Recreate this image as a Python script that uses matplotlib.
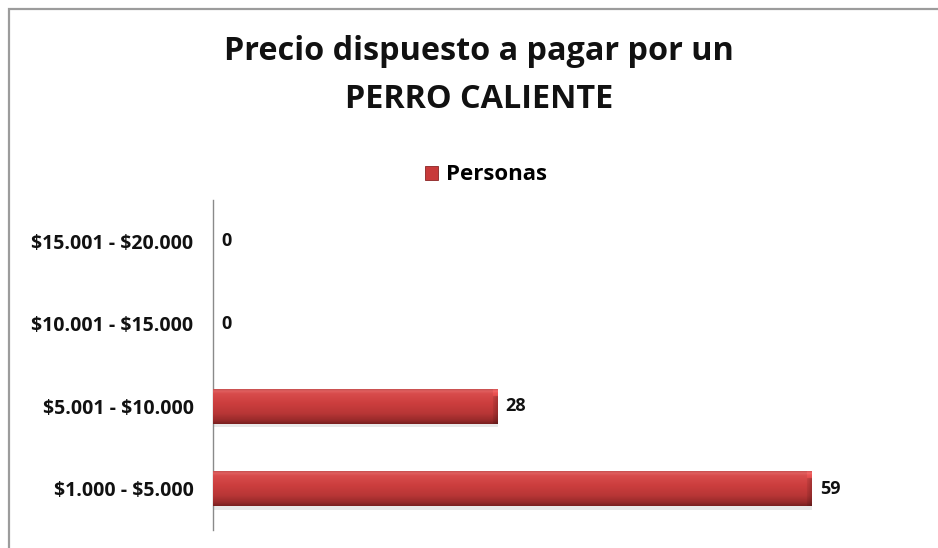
import numpy as np
import matplotlib
matplotlib.use("Agg")
import matplotlib.pyplot as plt
from matplotlib.patches import Rectangle, Patch
from matplotlib.colors import LinearSegmentedColormap

plt.rcParams["text.parse_math"] = False

categories = ["$1.000 - $5.000", "$5.001 - $10.000", "$10.001 - $15.000", "$15.001 - $20.000"]
personas = [59, 28, 0, 0]
series_name = "Personas"
title_lines = ["Precio dispuesto a pagar por un", "PERRO CALIENTE"]

FONT = "Open Sans"
W, H = 938, 548
fig = plt.figure(figsize=(W / 100, H / 100), dpi=100)
fig.patch.set_facecolor("white")

# chart frame (only left and top edges fall inside the canvas)
fig.patches.append(Rectangle((9 / W, -0.05), 1.2, 1 - 9 / H + 0.05,
                             transform=fig.transFigure, fill=False,
                             edgecolor="#9c9c9c", linewidth=1.6))

ax = fig.add_axes([213 / W, 18 / H, 710 / W, 330 / H])
ypos = np.arange(len(categories))
bar_h = 0.42

# soft shadow under the bars
ax.barh(ypos - 0.045, personas, height=bar_h, left=0.1, color="#7a7a7a",
        alpha=0.16, linewidth=0, zorder=1)

bars = ax.barh(ypos, personas, height=bar_h, color="none", linewidth=0, zorder=2)

# glossy vertical gradient for each bar
vcols = [(0.0, "#7a2020"), (0.1, "#982a2a"), (0.3, "#b83636"),
         (0.6, "#cc3e3e"), (0.88, "#d84c4c"), (0.95, "#e06060"), (1.0, "#c85050")]
cmap = LinearSegmentedColormap.from_list("bar_gloss", vcols)
for rect in bars:
    w = rect.get_width()
    if w <= 0:
        continue
    x0, y0, h = rect.get_x(), rect.get_y(), rect.get_height()
    ncols = max(int(w * 10), 10)
    rows = 60
    grad = np.tile(np.linspace(0, 1, rows)[:, None], (1, ncols))
    rgba = cmap(grad)
    # bevelled right end: darker edge, lighter upper corner
    end = 5
    for k in range(end):
        rgba[:int(rows * 0.8), ncols - end + k, :3] *= 0.92 - 0.03 * k
        rgba[int(rows * 0.8):, ncols - end + k, :3] = np.clip(
            rgba[int(rows * 0.8):, ncols - end + k, :3] * 1.08, 0, 1)
    ax.imshow(rgba, extent=[x0, x0 + w, y0, y0 + h], origin="lower",
              aspect="auto", interpolation="bilinear", zorder=3)

for y, v in zip(ypos, personas):
    ax.annotate(str(v), xy=(v, y), xytext=(6, 0), textcoords="offset points",
                ha="left", va="center", fontsize=13, fontweight="bold",
                family=FONT, color="#111111")

ax.set_xlim(0, 70)
ax.set_ylim(-0.5, len(categories) - 0.5)
ax.set_yticks(ypos)
ax.set_yticklabels(categories, fontsize=14, fontweight="bold", family=FONT, color="#111111")
ax.tick_params(axis="y", length=0, pad=14)
ax.set_xticks([])
for s in ["top", "right", "bottom"]:
    ax.spines[s].set_visible(False)
ax.spines["left"].set_color("#8a8a8a")
ax.spines["left"].set_linewidth(1.0)
ax.set_facecolor("none")

# title
fig.text(479 / W, 1 - 51 / H, title_lines[0], ha="center", va="center",
         fontsize=23.3, fontweight="bold", family=FONT, color="#111111")
fig.text(479 / W, 1 - 99 / H, title_lines[1], ha="center", va="center",
         fontsize=23.3, fontweight="bold", family=FONT, color="#111111")

# legend
handle = Patch(facecolor="#c83a3a", edgecolor="#8a2424", linewidth=0.6)
fig.legend([handle], [series_name], loc="center", bbox_to_anchor=(486 / W, 1 - 175 / H),
           frameon=False, handlelength=0.6, handleheight=0.6, handletextpad=0.35,
           prop={"family": FONT, "weight": "bold", "size": 16})

fig.savefig("out.png", dpi=100)
